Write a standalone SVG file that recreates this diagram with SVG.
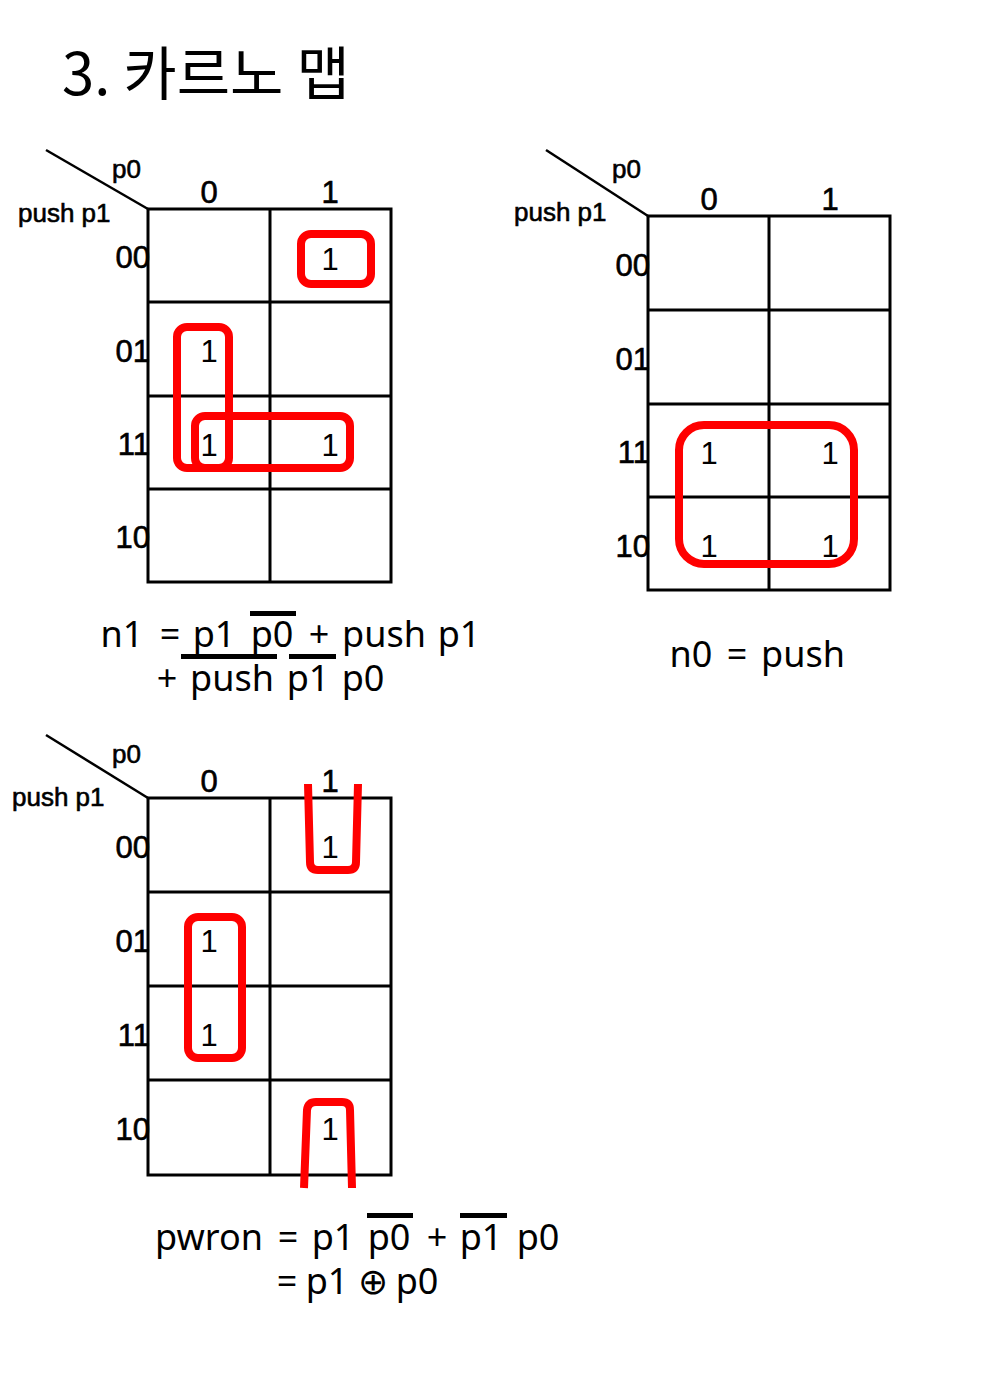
<svg xmlns="http://www.w3.org/2000/svg" width="1000" height="1374" viewBox="0 0 1000 1374">
<style>
.grid{fill:none;stroke:#000;stroke-width:3}
.diag{stroke:#000;stroke-width:2.5}
.lab{font-family:"Liberation Sans",Arial,sans-serif;font-size:26px;fill:#000;stroke:#000;stroke-width:0.6}
.hd{font-family:"Liberation Sans",Arial,sans-serif;font-size:31px;fill:#000;stroke:#000;stroke-width:0.6;text-anchor:middle}
.rl{font-family:"Liberation Sans",Arial,sans-serif;font-size:31px;fill:#000;stroke:#000;stroke-width:0.6;text-anchor:end}
.cv{font-family:"Liberation Sans",Arial,sans-serif;font-size:31px;fill:#000;text-anchor:middle}
.red{fill:none;stroke:#ff0000;stroke-width:8;stroke-linejoin:round}
.eq{font-family:"Noto Sans","DejaVu Sans",sans-serif;font-size:36px;fill:#000;text-anchor:middle}
.ov{fill:#000}
.title{font-family:"Noto Sans CJK KR","Noto Sans",sans-serif;font-size:58px;fill:#000}
</style>
<rect width="1000" height="1374" fill="#fff"/>
<text class="title" x="62" y="95">3. 카르노 맵</text>

<g id="map1">
  <line class="diag" x1="46" y1="150" x2="148" y2="209"/>
  <rect class="grid" x="148" y="209" width="243" height="373"/>
  <line class="grid" x1="270" y1="209" x2="270" y2="582"/>
  <line class="grid" x1="148" y1="302" x2="391" y2="302"/>
  <line class="grid" x1="148" y1="396" x2="391" y2="396"/>
  <line class="grid" x1="148" y1="489" x2="391" y2="489"/>
  <text class="lab" x="112" y="178">p0</text>
  <text class="lab" x="18" y="222">push p1</text>
  <text class="hd" x="209" y="203">0</text>
  <text class="hd" x="330" y="203">1</text>
  <text class="rl" x="150" y="268">00</text>
  <text class="rl" x="150" y="362">01</text>
  <text class="rl" x="150" y="455">11</text>
  <text class="rl" x="150" y="548">10</text>
  <text class="cv" x="330" y="270">1</text>
  <text class="cv" x="209" y="362">1</text>
  <text class="cv" x="209" y="456">1</text>
  <text class="cv" x="330" y="456">1</text>
  <rect class="red" x="301" y="234" width="70" height="50" rx="10"/>
  <rect class="red" x="177" y="327" width="52" height="141" rx="10"/>
  <rect class="red" x="195" y="416" width="155" height="52" rx="10"/>
</g>

<g id="map2">
  <line class="diag" x1="546" y1="150" x2="648" y2="216"/>
  <rect class="grid" x="648" y="216" width="242" height="374"/>
  <line class="grid" x1="769" y1="216" x2="769" y2="590"/>
  <line class="grid" x1="648" y1="310" x2="890" y2="310"/>
  <line class="grid" x1="648" y1="404" x2="890" y2="404"/>
  <line class="grid" x1="648" y1="497" x2="890" y2="497"/>
  <text class="lab" x="612" y="178">p0</text>
  <text class="lab" x="514" y="221">push p1</text>
  <text class="hd" x="709" y="210">0</text>
  <text class="hd" x="830" y="210">1</text>
  <text class="rl" x="650" y="276">00</text>
  <text class="rl" x="650" y="370">01</text>
  <text class="rl" x="650" y="463">11</text>
  <text class="rl" x="650" y="557">10</text>
  <text class="cv" x="709" y="464">1</text>
  <text class="cv" x="830" y="464">1</text>
  <text class="cv" x="709" y="557">1</text>
  <text class="cv" x="830" y="557">1</text>
  <rect class="red" x="679" y="425" width="175" height="139" rx="25"/>
</g>

<g id="map3">
  <line class="diag" x1="46" y1="735" x2="148" y2="798"/>
  <rect class="grid" x="148" y="798" width="243" height="377"/>
  <line class="grid" x1="270" y1="798" x2="270" y2="1175"/>
  <line class="grid" x1="148" y1="892" x2="391" y2="892"/>
  <line class="grid" x1="148" y1="986" x2="391" y2="986"/>
  <line class="grid" x1="148" y1="1080" x2="391" y2="1080"/>
  <text class="lab" x="112" y="763">p0</text>
  <text class="lab" x="12" y="806">push p1</text>
  <text class="hd" x="209" y="792">0</text>
  <text class="hd" x="330" y="792">1</text>
  <text class="rl" x="150" y="858">00</text>
  <text class="rl" x="150" y="952">01</text>
  <text class="rl" x="150" y="1046">11</text>
  <text class="rl" x="150" y="1140">10</text>
  <text class="cv" x="330" y="858">1</text>
  <text class="cv" x="209" y="952">1</text>
  <text class="cv" x="209" y="1046">1</text>
  <text class="cv" x="330" y="1140">1</text>
  <rect class="red" x="188" y="917" width="54" height="141" rx="10"/>
  <path class="red" d="M308 784 L310 862 Q310 870 318 870 L348 870 Q356 870 356 862 L358 784"/>
  <path class="red" d="M304 1188 L307 1110 Q308 1102 316 1102 L342 1102 Q350 1102 350 1110 L352 1188"/>
</g>

<g id="eq-n1">
  <text class="eq" x="122" y="647">n1</text>
  <text class="eq" x="170" y="647">=</text>
  <text class="eq" x="214" y="647">p1</text>
  <text class="eq" x="272" y="647">p0</text>
  <text class="eq" x="319" y="647">+</text>
  <text class="eq" x="384" y="647">push</text>
  <text class="eq" x="459" y="647">p1</text>
  <text class="eq" x="167" y="691">+</text>
  <text class="eq" x="232" y="691">push</text>
  <text class="eq" x="308" y="691">p1</text>
  <text class="eq" x="363" y="691">p0</text>
  <rect class="ov" x="250" y="611" width="46" height="5"/>
  <rect class="ov" x="181" y="654" width="96" height="5"/>
  <rect class="ov" x="289" y="654" width="47" height="5"/>
</g>

<g id="eq-n0">
  <text class="eq" x="691" y="667">n0</text>
  <text class="eq" x="737" y="667">=</text>
  <text class="eq" x="803" y="667">push</text>
</g>

<g id="eq-pwron">
  <text class="eq" x="209" y="1250">pwron</text>
  <text class="eq" x="288" y="1250">=</text>
  <text class="eq" x="333" y="1250">p1</text>
  <text class="eq" x="389" y="1250">p0</text>
  <text class="eq" x="437" y="1250">+</text>
  <text class="eq" x="481" y="1250">p1</text>
  <text class="eq" x="538" y="1250">p0</text>
  <rect class="ov" x="367" y="1213" width="46" height="5"/>
  <rect class="ov" x="460" y="1213" width="47" height="5"/>
  <text class="eq" x="287" y="1294">=</text>
  <text class="eq" x="327" y="1294">p1</text>
  <text class="eq" x="373" y="1294">⊕</text>
  <text class="eq" x="417" y="1294">p0</text>
</g>
</svg>
